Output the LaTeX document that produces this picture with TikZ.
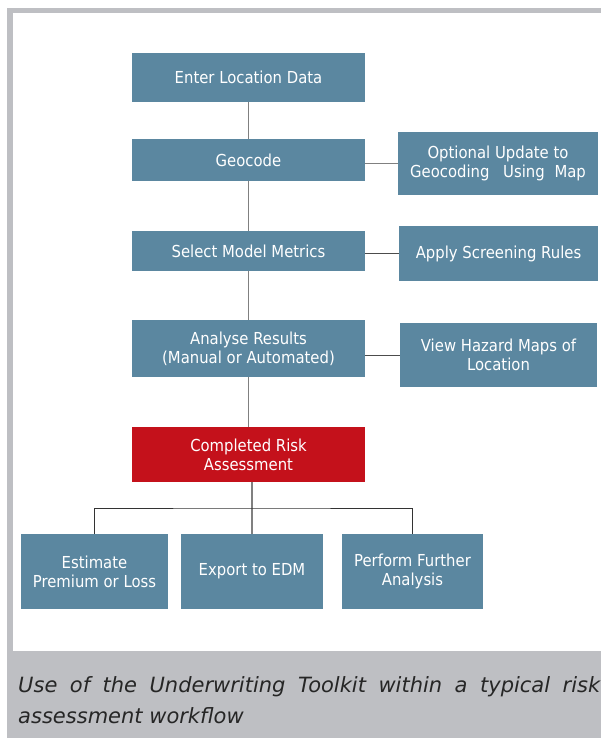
\documentclass[tikz,border=0pt]{standalone}
\usepackage{fontspec}
\setmainfont{DejaVu Sans}
\newfontfamily\boxfont[FakeStretch=0.9]{DejaVu Sans}
\newfontfamily\capfont{DejaVu Sans Oblique}
\usetikzlibrary{calc}
\definecolor{boxblue}{RGB}{91,135,160}
\definecolor{riskred}{RGB}{196,17,27}
\definecolor{framegray}{RGB}{190,191,195}
\definecolor{linkgray}{RGB}{128,128,128}
\definecolor{captext}{RGB}{38,38,38}

\begin{document}
\begin{tikzpicture}[x=1pt, y=-1pt,
    box/.style={draw=none, fill=boxblue, text=white, font=\boxfont\fontsize{16.5}{19}\selectfont, align=center, inner sep=0pt},
    redbox/.style={box, fill=riskred},
    link/.style={linkgray, line width=1.6pt},
    sidelink/.style={black!70, line width=1pt},
    tree/.style={black!80, line width=1pt}]

    % frame and caption strip
    \useasboundingbox (0,0) rectangle (601,738);
    \fill[framegray] (7,8) rectangle (601,738);
    \fill[white] (13,13.5) rectangle (601,651);

    % main column of steps
    \node[box, minimum width=233pt, minimum height=49pt] (enter) at (248.5,77.5) {Enter Location Data};
    \node[box, minimum width=233pt, minimum height=41pt] (geo) at (248.5,160) {Geocode};
    \node[box, minimum width=233pt, minimum height=40pt] (metrics) at (248.5,251) {Select Model Metrics};
    \node[box, minimum width=233pt, minimum height=57pt] (analyse) at (248.5,348.5) {Analyse Results\\(Manual or Automated)};
    \node[redbox, minimum width=233pt, minimum height=55pt] (risk) at (248.5,454.5) {Completed Risk\\Assessment};

    % side boxes on the right
    \node[box, minimum width=200pt, minimum height=63pt] (update) at (498,163.5) {Optional Update to\\Geocoding\hspace{9pt} Using\hspace{5pt} Map};
    \node[box, minimum width=199pt, minimum height=55pt] (screen) at (498.5,253.5) {Apply Screening Rules};
    \node[box, minimum width=197pt, minimum height=64pt] (hazard) at (498.5,355) {View Hazard Maps of\\Location};

    % outcomes along the bottom
    \node[box, minimum width=147pt, minimum height=75pt] (premium) at (94.5,571.5) {Estimate\\Premium or Loss};
    \node[box, minimum width=142pt, minimum height=75pt] (edm) at (252,571.5) {Export to EDM};
    \node[box, minimum width=141pt, minimum height=75pt] (further) at (412.5,571.5) {Perform Further\\Analysis};

    % vertical links down the column
    \draw[link] (enter) -- (geo);
    \draw[link] (geo) -- (metrics);
    \draw[link] (metrics) -- (analyse);
    \draw[link] (analyse) -- (risk);
    \draw[link] (risk.south -| edm.north) -- (edm.north);

    % links out to the side boxes
    \draw[link] (update.west) -- (update.west -| geo.east);
    \draw[sidelink] (screen.west) -- (screen.west -| metrics.east);
    \draw[sidelink] (hazard.west) -- (hazard.west -| analyse.east);

    % the branching to the outcomes
    \draw[tree] (premium.north) |- ($(risk.south)!0.5!(edm.north)$) -| (further.north);

    % caption
    \node[font=\capfont\fontsize{21}{31}\selectfont, text=captext, align=left, anchor=north west, inner sep=0pt] (caption) at (18,676)
        {\makebox[582pt][s]{Use of the Underwriting Toolkit within a typical risk}\\assessment workflow};

\end{tikzpicture}
\end{document}
